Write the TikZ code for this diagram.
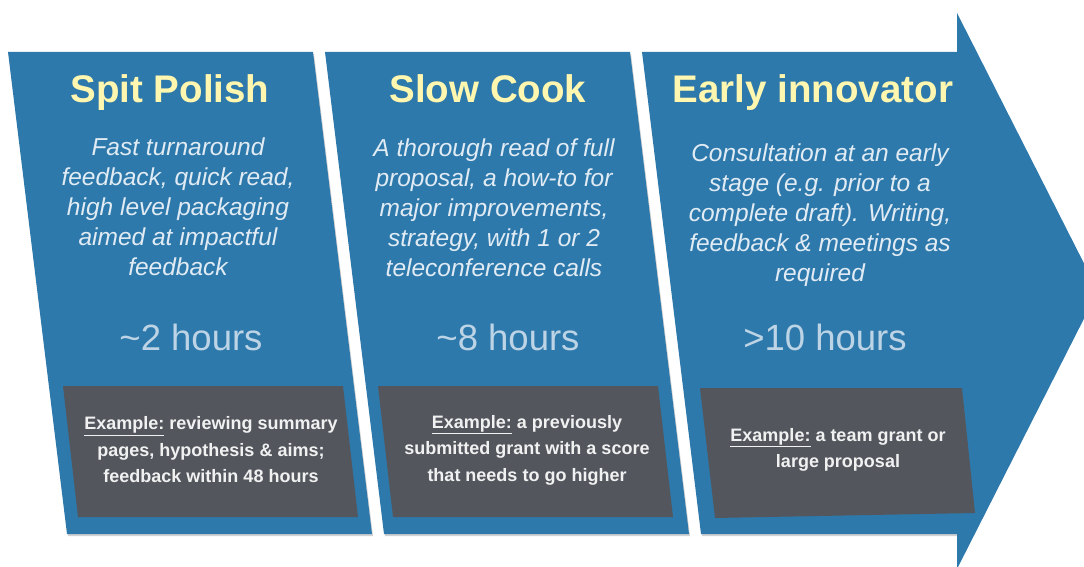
\documentclass[tikz,border=0pt]{standalone}
\usepackage{fontspec}
\setmainfont{Liberation Sans}
\definecolor{panelblue}{RGB}{46,121,171}
\definecolor{boxgray}{RGB}{83,87,93}
\definecolor{headyellow}{RGB}{255,246,176}
\definecolor{paletext}{RGB}{224,235,244}
\tikzset{
    x = 1pt, y = -1pt,
    headline/.style = {font = \fontsize{38.5}{42}\selectfont\bfseries, text = headyellow, anchor = base},
    blurb/.style = {font = \fontsize{24.5}{30}\selectfont\itshape, text = paletext, align = center},
    duration/.style = {font = \fontsize{36.5}{40}\selectfont, text = paletext!80!panelblue, anchor = base},
    sample/.style = {font = \fontsize{18}{26.5}\selectfont\bfseries, text = white!92!boxgray, align = center},
    shade/.style = {fill = black!18}
}

\begin{document}
\begin{tikzpicture}
    \fill[white] (0,0) rectangle (1084,567);
    \useasboundingbox (0,0) rectangle (1084,567);
    \clip (0,0) rectangle (1084,567);

    % panels
    \fill[shade] (9,54) -- (314,54) -- (373,536) -- (68,536) -- cycle;
    \fill[shade] (326,54) -- (631,54) -- (690,536) -- (385,536) -- cycle;
    \fill[shade] (643,54) -- (958,54) -- (958,536) -- (702,536) -- cycle;
    \fill[panelblue] (8,52) -- (313,52) -- (372,534) -- (67,534) -- cycle;
    \fill[panelblue] (325,52) -- (630,52) -- (689,534) -- (384,534) -- cycle;
    \fill[panelblue] (642,52) -- (957,52) -- (957,13) -- (1098,291)
        -- (957,569) -- (957,534) -- (701,534) -- cycle;

    % example boxes
    \fill[boxgray] (63,386) -- (343,386) -- (358,517) -- (78,517) -- cycle;
    \fill[boxgray] (378,386) -- (658,386) -- (673,517) -- (393,517) -- cycle;
    \fill[boxgray] (700,388) -- (962,388) -- (975,513) -- (715,518) -- cycle;

    \node[headline] (spit) at (170,103) {Spit Polish};
    \node[headline] (slow) at (488,103) {Slow Cook};
    \node[headline] (early) at (813,103) {Early innovator};

    \node[blurb] (spitblurb) at (178,207) {Fast turnaround\\feedback, quick read,\\high level packaging\\aimed at impactful\\feedback};
    \node[blurb] (slowblurb) at (494,208) {A thorough read of full\\proposal, a how-to for\\major improvements,\\strategy, with 1 or 2\\teleconference calls};
    \node[blurb] (earlyblurb) at (820,215) {Consultation at an early\\stage (e.g. prior to a\\complete draft). Writing,\\feedback \& meetings as\\required};

    \node[duration] (spithours) at (191,350) {\textasciitilde 2 hours};
    \node[duration] (slowhours) at (508,350) {\textasciitilde 8 hours};
    \node[duration] (earlyhours) at (825,350) {>10 hours};

    \node[sample] (spitsample) at (211,450) {\underline{Example:} reviewing summary\\pages, hypothesis \& aims;\\feedback within 48 hours};
    \node[sample] (slowsample) at (527,450) {\underline{Example:} a previously\\submitted grant with a score\\that needs to go higher};
    \node[sample] (earlysample) at (838,450) {\underline{Example:} a team grant or\\large proposal};
\end{tikzpicture}
\end{document}
